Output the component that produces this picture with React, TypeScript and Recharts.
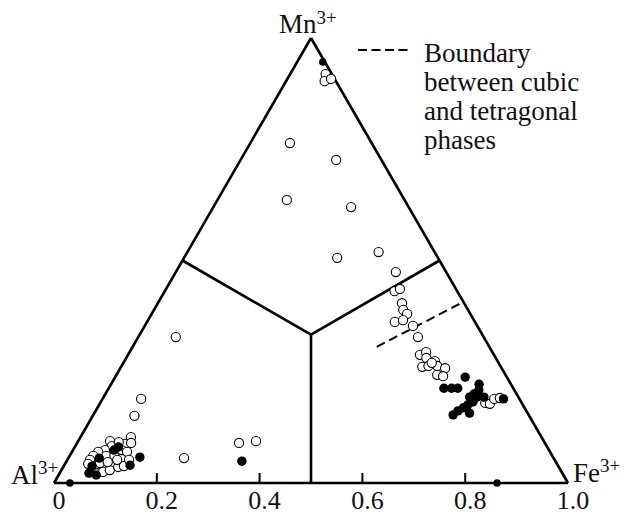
import React from 'react';
import { ScatterChart, Scatter, XAxis, YAxis, ReferenceLine, Customized } from 'recharts';

// Ternary compositions: [Fe3+ fraction, Mn3+ fraction]; Al3+ = 1 - Fe - Mn
const openCircles: [number, number][] = [
  [0.069, 0.919], [0.075, 0.903], [0.085, 0.908], [0.077, 0.764], [0.186, 0.726],
  [0.135, 0.636], [0.268, 0.620], [0.298, 0.506], [0.372, 0.519],
  [0.428, 0.474], [0.447, 0.431], [0.455, 0.436], [0.475, 0.404], [0.485, 0.389],
  [0.497, 0.380], [0.482, 0.362], [0.496, 0.366], [0.522, 0.353], [0.544, 0.328],
  [0.568, 0.288], [0.577, 0.294], [0.584, 0.281], [0.586, 0.261], [0.597, 0.263],
  [0.604, 0.274], [0.614, 0.263], [0.632, 0.258], [0.624, 0.243], [0.637, 0.240], [0.600, 0.270],
  [0.749, 0.180], [0.759, 0.178], [0.762, 0.189], [0.772, 0.191],
  [0.073, 0.328], [0.075, 0.189], [0.081, 0.151], [0.225, 0.056], [0.315, 0.090], [0.346, 0.094],
  [0.062, 0.094], [0.071, 0.083], [0.094, 0.088], [0.098, 0.103], [0.105, 0.090], [0.095, 0.074],
  [0.062, 0.074], [0.051, 0.070], [0.046, 0.061], [0.044, 0.052], [0.045, 0.043], [0.059, 0.038],
  [0.071, 0.061], [0.087, 0.061], [0.107, 0.070], [0.073, 0.022], [0.083, 0.025], [0.094, 0.029],
  [0.107, 0.036], [0.117, 0.038], [0.067, 0.045], [0.081, 0.047], [0.097, 0.052], [0.080, 0.092],
  [0.120, 0.052],
];

const filledDots: [number, number][] = [
  [0.681, 0.238], [0.652, 0.213], [0.667, 0.213], [0.679, 0.213], [0.716, 0.222], [0.722, 0.209],
  [0.712, 0.193], [0.726, 0.193], [0.724, 0.182], [0.740, 0.193], [0.717, 0.175], [0.712, 0.169],
  [0.705, 0.162], [0.700, 0.153], [0.730, 0.157], [0.780, 0.189], [0.717, 0.200],
  [0.341, 0.049], [0.138, 0.058], [0.057, 0.022], [0.073, 0.018], [0.080, 0.074], [0.085, 0.081],
  [0.060, 0.056], [0.128, 0.040], [0.055, 0.038],
];

const smallDots: [number, number][] = [[0.050, 0.946], [0.031, 0.0], [0.862, 0.0]];

// Cubic / tetragonal boundary (dashed)
const boundary: [number, number][] = [[0.475, 0.306], [0.593, 0.407]];

// Triangle geometry in ternary coordinates [Fe, Mn]
const vAl: [number, number] = [0, 0];
const vFe: [number, number] = [1, 0];
const vMn: [number, number] = [0, 1];
const centroid: [number, number] = [1 / 3, 1 / 3];
const midAlFe: [number, number] = [0.5, 0];
const midAlMn: [number, number] = [0, 0.5];
const midFeMn: [number, number] = [0.5, 0.5];

const axisTicks = [0, 0.2, 0.4, 0.6, 0.8, 1.0];
const axisTickLabels = ['0', '0.2', '0.4', '0.6', '0.8', '1.0'];

const H = Math.sqrt(3) / 2;
const toXY = ([fe, mn]: [number, number]) => ({ x: fe + mn / 2, y: mn * H });

const serifStyle = { fontFamily: 'Liberation Serif, Tinos, DejaVu Serif, serif' };

const segments: [number, number][][] = [
  [vAl, vFe], [vFe, vMn], [vMn, vAl],
  [centroid, midAlFe], [centroid, midAlMn], [centroid, midFeMn],
];

const AxisTick = (props: any) => {
  const { x, y, payload } = props;
  const v = payload.value;
  const idx = axisTicks.findIndex((t) => Math.abs(t - v) < 1e-6);
  const mark = v > 0.01 && v < 0.99;
  return (
    <g>
      {mark && <line x1={x} x2={x} y1={y} y2={y - 10} stroke="#000" strokeWidth={2} />}
      <text x={x + 5} y={y + 26} textAnchor="middle" fontSize={26} style={serifStyle} fill="#111">
        {axisTickLabels[idx]}
      </text>
    </g>
  );
};

const Labels = () => (
  <g fill="#111" style={serifStyle}>
    <text x={279} y={33} fontSize={27} style={serifStyle}>
      Mn<tspan dy={-9} fontSize={19}>3+</tspan>
    </text>
    <text x={11} y={484} fontSize={27} style={serifStyle}>
      Al<tspan dy={-10} fontSize={19}>3+</tspan>
    </text>
    <text x={573} y={482} fontSize={27} style={serifStyle}>
      Fe<tspan dy={-10} fontSize={19}>3+</tspan>
    </text>
    <line x1={358} x2={412} y1={50} y2={50} stroke="#000" strokeWidth={2} strokeDasharray="9 4.5" />
    <text x={424} y={62} fontSize={27} style={serifStyle}>Boundary</text>
    <text x={424} y={91} fontSize={27} style={serifStyle}>between cubic</text>
    <text x={424} y={120} fontSize={27} style={serifStyle}>and tetragonal</text>
    <text x={424} y={149} fontSize={27} style={serifStyle}>phases</text>
  </g>
);

const openShape = (p: any) => <circle cx={p.cx} cy={p.cy} r={4.6} fill="#fff" stroke="#000" strokeWidth={1.1} />;
const filledShape = (p: any) => <circle cx={p.cx} cy={p.cy} r={4.7} fill="#000" />;
const smallShape = (p: any) => <circle cx={p.cx} cy={p.cy} r={3.8} fill="#000" />;

export default function App() {
  return (
    <div style={{ position: 'absolute', left: 0, top: 0, width: 629, height: 515, background: '#fff' }}>
      <ScatterChart width={629} height={515} margin={{ top: 38, right: 61, left: 54, bottom: 0 }}>
        <XAxis
          type="number"
          dataKey="x"
          domain={[0, 1]}
          ticks={axisTicks}
          height={32}
          axisLine={false}
          tickLine={false}
          tickSize={0}
          tickMargin={0}
          tick={(p: any) => <AxisTick {...p} />}
          interval={0}
        />
        <YAxis type="number" dataKey="y" domain={[0, H]} hide width={0} />
        {segments.map((s, i) => (
          <ReferenceLine
            key={i}
            segment={[toXY(s[0]), toXY(s[1])]}
            stroke="#000"
            strokeWidth={2.6}
            ifOverflow="visible"
          />
        ))}
        <ReferenceLine
          segment={[toXY(boundary[0]), toXY(boundary[1])]}
          stroke="#000"
          strokeWidth={2}
          strokeDasharray="9 5"
          ifOverflow="visible"
        />
        <Scatter data={openCircles.map(toXY)} shape={openShape} isAnimationActive={false} />
        <Scatter data={filledDots.map(toXY)} shape={filledShape} isAnimationActive={false} />
        <Scatter data={smallDots.map(toXY)} shape={smallShape} isAnimationActive={false} />
        <Customized component={Labels} />
      </ScatterChart>
    </div>
  );
}
